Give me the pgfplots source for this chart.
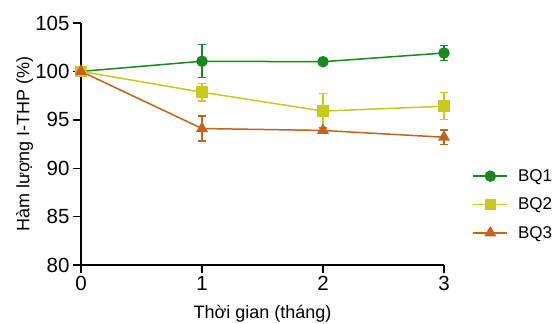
\documentclass[border=0pt]{standalone}
\usepackage{pgfplots}
\pgfplotsset{compat=1.18}
\usepackage{fontspec}
\setmainfont{Liberation Sans}
\definecolor{cg}{HTML}{1A8720}
\definecolor{cy}{HTML}{C9C81E}
\definecolor{co}{HTML}{C2641C}
\begin{document}
\begin{tikzpicture}
\path[use as bounding box] (-81bp,-59bp) rectangle (475bp,265bp);
\begin{axis}[
  scale only axis,
  width=363bp, height=242bp,
  xmin=0, xmax=3, ymin=80, ymax=105,
  xtick={0,1,2,3}, ytick={80,85,90,95,100,105},
  axis x line*=bottom, axis y line*=left,
  axis line style={line width=1.4bp, -},
  tick style={line width=1.4bp, black},
  tick align=outside, major tick length=8bp,
  /pgf/number format/assume math mode=true,
  xticklabel style={font=\fontsize{20.5bp}{22bp}\selectfont},
  yticklabel style={font=\fontsize{20.5bp}{22bp}\selectfont},
  xlabel={Thời gian (tháng)},
  ylabel={Hàm lượng I-THP (\%)},
  label style={font=\fontsize{18bp}{20bp}\selectfont},
  x label style={at={(axis description cs:0.5,-0.2)}, anchor=center},
  y label style={at={(axis description cs:-0.155,0.5)}, anchor=center},
  clip=false,
  legend style={draw=none, fill=none, at={(axis description cs:1.07,0.25)}, anchor=west,
    font=\fontsize{17bp}{20bp}\selectfont, row sep=11bp,
    /tikz/every odd column/.append style={column sep=8bp}},
  legend image code/.code={
    \draw[mark repeat=2,mark phase=2] plot coordinates {(0bp,0bp) (17bp,0bp) (34bp,0bp)};},
  legend cell align=left,
  every axis plot/.append style={line width=1.5bp},
  error bars/error bar style={line width=1.3bp},
  error bars/error mark options={rotate=90, mark size=4bp, line width=1.3bp},
]
\addplot+[color=cg, mark=*, mark size=5bp, mark options={fill=cg, draw=cg},
  error bars/.cd, y dir=both, y explicit]
  coordinates {(0,100) +- (0,0) (1,101.05) +- (0,1.7) (2,101.0) +- (0,0.2) (3,101.9) +- (0,0.75)};
\addlegendentry{BQ1}
\addplot+[color=cy, mark=square*, mark size=5bp, mark options={fill=cy, draw=cy},
  error bars/.cd, y dir=both, y explicit]
  coordinates {(0,100) +- (0,0) (1,97.85) +- (0,0.9) (2,95.9) +- (0,1.8) (3,96.4) +- (0,1.4)};
\addlegendentry{BQ2}
\addplot+[color=co, mark=triangle*, mark size=5.5bp, mark options={fill=co, draw=co},
  error bars/.cd, y dir=both, y explicit]
  coordinates {(0,100) +- (0,0) (1,94.1) +- (0,1.3) (2,93.9) +- (0,0.3) (3,93.2) +- (0,0.75)};
\addlegendentry{BQ3}
\end{axis}
\end{tikzpicture}
\end{document}
